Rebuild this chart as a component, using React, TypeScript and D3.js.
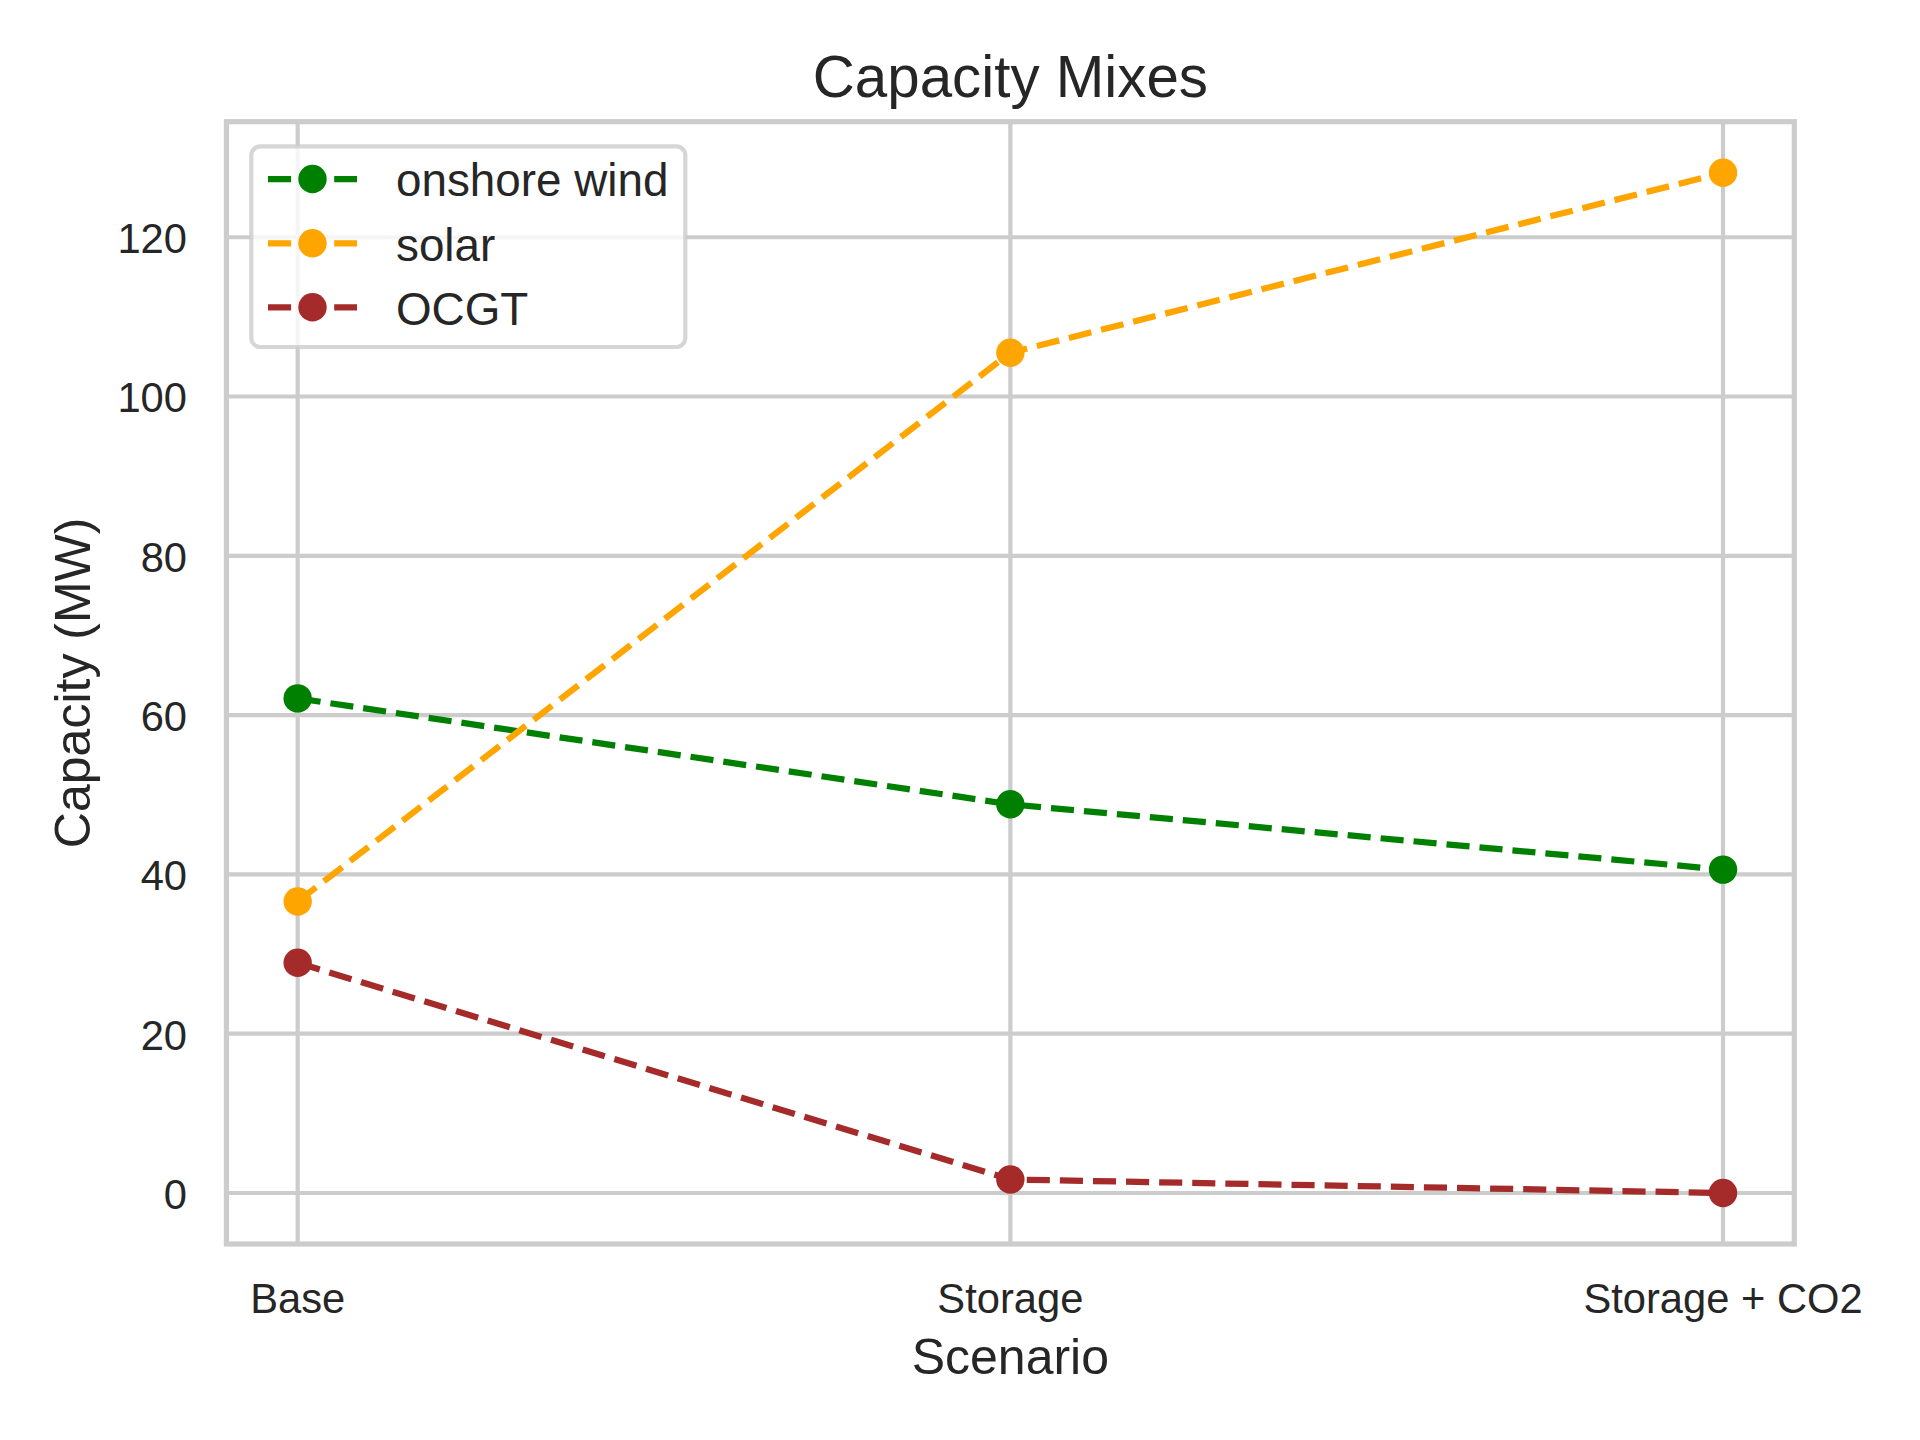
import React, { useEffect, useRef } from "react";
import * as d3 from "d3";

// scenarios on the x axis
const scenarios = ["Base", "Storage", "Storage + CO2"];

// capacities (MW)
const onshoreWind = [62.1, 48.8, 40.6];
const solar = [36.6, 105.5, 128.1];
const ocgt = [28.9, 1.7, 0.0];

const yTicks = [0, 20, 40, 60, 80, 100, 120];

const seriesNames = ["onshore wind", "solar", "OCGT"];
const seriesColors = ["green", "orange", "brown"];

const App = () => {
  const svgRef = useRef<SVGSVGElement | null>(null);

  useEffect(() => {
    const svg = d3.select(svgRef.current);
    svg.selectAll("*").remove();

    const width = 1920;
    const height = 1440;
    const left = 226.4;
    const right = 1794.3;
    const top = 121.7;
    const bottom = 1244;
    const font = "'Liberation Sans', Arial, Helvetica, sans-serif";
    const textColor = "#262626";
    const gridColor = "#cccccc";

    const allSeries = [onshoreWind, solar, ocgt];
    const maxVal = d3.max(allSeries.flat()) as number;
    const minVal = Math.min(0, d3.min(allSeries.flat()) as number);
    const pad = (maxVal - minVal) * 0.05;

    // matplotlib style 5% margins on both axes
    const x = d3
      .scaleLinear()
      .domain([-0.1, scenarios.length - 1 + 0.1])
      .range([left, right]);
    const y = d3
      .scaleLinear()
      .domain([minVal - pad, maxVal + pad])
      .range([bottom, top]);

    svg
      .append("rect")
      .attr("width", width)
      .attr("height", height)
      .attr("fill", "white");

    // grid
    const grid = svg.append("g");
    grid
      .selectAll("line.h")
      .data(yTicks)
      .join("line")
      .attr("x1", left)
      .attr("x2", right)
      .attr("y1", (d) => y(d))
      .attr("y2", (d) => y(d))
      .attr("stroke", gridColor)
      .attr("stroke-width", 4.2);
    grid
      .selectAll("line.v")
      .data(scenarios)
      .join("line")
      .attr("x1", (_, i) => x(i))
      .attr("x2", (_, i) => x(i))
      .attr("y1", top)
      .attr("y2", bottom)
      .attr("stroke", gridColor)
      .attr("stroke-width", 4.2);

    // y tick labels
    svg
      .append("g")
      .selectAll("text")
      .data(yTicks)
      .join("text")
      .attr("x", 187)
      .attr("y", (d) => y(d))
      .attr("dy", "0.38em")
      .attr("text-anchor", "end")
      .style("font-family", font)
      .style("font-size", "41.7px")
      .style("fill", textColor)
      .text((d) => d);

    // x tick labels
    svg
      .append("g")
      .selectAll("text")
      .data(scenarios)
      .join("text")
      .attr("x", (_, i) => x(i))
      .attr("y", 1313.3)
      .attr("text-anchor", "middle")
      .style("font-family", font)
      .style("font-size", "41.7px")
      .style("fill", textColor)
      .text((d) => d);

    // series: line then markers, in order
    const line = d3
      .line<number>()
      .x((_, i) => x(i))
      .y((d) => y(d));

    allSeries.forEach((values, s) => {
      const g = svg.append("g");
      g.append("path")
        .datum(values)
        .attr("d", line)
        .attr("fill", "none")
        .attr("stroke", seriesColors[s])
        .attr("stroke-width", 6.25)
        .attr("stroke-dasharray", "23.1,10");
      g.selectAll("circle")
        .data(values)
        .join("circle")
        .attr("cx", (_, i) => x(i))
        .attr("cy", (d) => y(d))
        .attr("r", 14.2)
        .attr("fill", seriesColors[s]);
    });

    // spines
    svg
      .append("rect")
      .attr("x", left)
      .attr("y", top)
      .attr("width", right - left)
      .attr("height", bottom - top)
      .attr("fill", "none")
      .attr("stroke", gridColor)
      .attr("stroke-width", 5.2);

    // legend
    const legend = svg.append("g");
    legend
      .append("rect")
      .attr("x", 251.3)
      .attr("y", 146.3)
      .attr("width", 434)
      .attr("height", 200.7)
      .attr("rx", 9)
      .attr("fill", "white")
      .attr("fill-opacity", 0.8)
      .attr("stroke", "#cccccc")
      .attr("stroke-opacity", 0.8)
      .attr("stroke-width", 4.2);

    const rowY = [179, 243.3, 307.3];
    seriesNames.forEach((name, s) => {
      legend
        .append("line")
        .attr("x1", 268)
        .attr("x2", 357)
        .attr("y1", rowY[s])
        .attr("y2", rowY[s])
        .attr("stroke", seriesColors[s])
        .attr("stroke-width", 6.25)
        .attr("stroke-dasharray", "23.1,10");
      legend
        .append("circle")
        .attr("cx", 312.5)
        .attr("cy", rowY[s])
        .attr("r", 14.2)
        .attr("fill", seriesColors[s]);
      legend
        .append("text")
        .attr("x", 396)
        .attr("y", rowY[s])
        .attr("dy", "0.38em")
        .style("font-family", font)
        .style("font-size", "45.8px")
        .style("fill", textColor)
        .text(name);
    });

    // title and axis labels
    svg
      .append("text")
      .attr("x", (left + right) / 2)
      .attr("y", 96.7)
      .attr("text-anchor", "middle")
      .style("font-family", font)
      .style("font-size", "58.3px")
      .style("fill", textColor)
      .text("Capacity Mixes");

    svg
      .append("text")
      .attr("x", (left + right) / 2)
      .attr("y", 1374.3)
      .attr("text-anchor", "middle")
      .style("font-family", font)
      .style("font-size", "50px")
      .style("fill", textColor)
      .text("Scenario");

    svg
      .append("text")
      .attr("transform", `translate(90, ${(top + bottom) / 2}) rotate(-90)`)
      .attr("text-anchor", "middle")
      .style("font-family", font)
      .style("font-size", "50px")
      .style("fill", textColor)
      .text("Capacity (MW)");
  }, []);

  return (
    <div style={{ position: "absolute", left: 0, top: 0 }}>
      <svg ref={svgRef} width={1920} height={1440} style={{ display: "block" }}></svg>
    </div>
  );
};

export default App;
